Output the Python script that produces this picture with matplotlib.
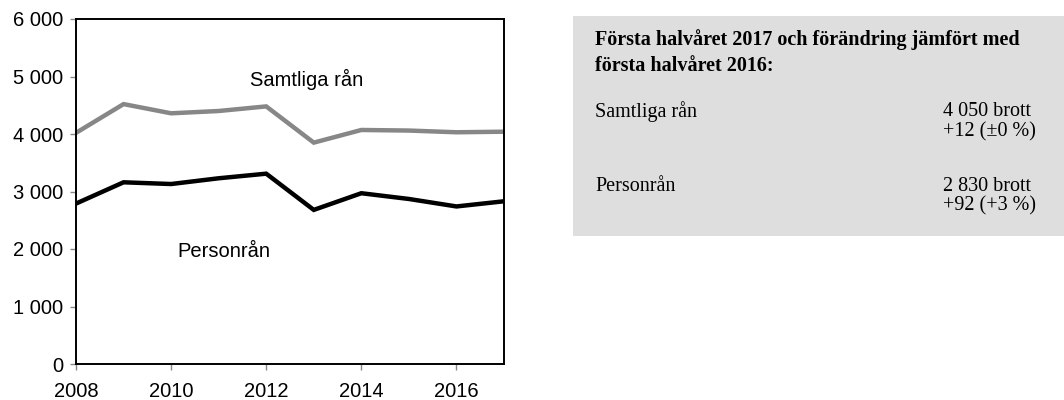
import matplotlib
matplotlib.use("Agg")
import matplotlib.pyplot as plt
from matplotlib.patches import Rectangle
from matplotlib.ticker import FuncFormatter

years = [2008, 2009, 2010, 2011, 2012, 2013, 2014, 2015, 2016, 2017]
samtliga = [4020, 4520, 4360, 4400, 4480, 3850, 4070, 4060, 4030, 4040]
personran = [2790, 3160, 3130, 3230, 3310, 2680, 2970, 2870, 2740, 2830]
yticks = [0, 1000, 2000, 3000, 4000, 5000, 6000]
xticks = [2008, 2010, 2012, 2014, 2016]

box_title = ["Första halvåret 2017 och förändring jämfört med",
             "första halvåret 2016:"]
box_rows = [("Samtliga rån", "4 050 brott", "+12 (±0 %)"),
            ("Personrån", "2 830 brott", "+92 (+3 %)")]

plt.rcParams['font.family'] = ['Liberation Sans', 'DejaVu Sans']

W, H = 1064, 400
fig = plt.figure(figsize=(W/100, H/100), dpi=100)
ax = fig.add_axes([76/W, 1-364/H, (504-76)/W, (364-19)/H])

ax.plot(years, samtliga, color='#878787', lw=3.2, solid_joinstyle='miter')
ax.plot(years, personran, color='black', lw=3.2, solid_joinstyle='miter')
ax.set_xlim(2008, 2017)
ax.set_ylim(0, 6000)
ax.set_yticks(yticks)
ax.set_xticks(xticks)
ax.yaxis.set_major_formatter(FuncFormatter(lambda v, p: f"{int(v):,}".replace(",", " ")))
ax.tick_params(labelsize=14.5, length=4, width=1, color='#888888', direction='out')
ax.tick_params(axis='y', pad=5)
ax.tick_params(axis='x', pad=9)
for s in ax.spines.values():
    s.set_linewidth(1.4)

ax.text(2012.85, 4940, "Samtliga rån", fontsize=14.5, ha='center', va='center')
ax.text(2011.1, 1950, "Personrån", fontsize=14.5, ha='center', va='center')

# info box
bx0, by0, bx1, by1 = 573, 16, 1064, 236
fig.patches.append(Rectangle((bx0/W, 1-by1/H), (bx1-bx0)/W, (by1-by0)/H,
                             transform=fig.transFigure, facecolor='#dedede',
                             edgecolor='none', zorder=0))
serif = ['Liberation Serif', 'DejaVu Serif']
for line, y in zip(box_title, [40, 66]):
    fig.text(595/W, 1-y/H, line, fontsize=14.5, fontweight='bold', family=serif,
             va='center', ha='left')
row_y = [112, 186]
for (name, v1, v2), y in zip(box_rows, row_y):
    fig.text(595/W, 1-y/H, name, fontsize=14.5, family=serif, va='center', ha='left')
    fig.text(943/W, 1-y/H, v1, fontsize=14.5, family=serif, va='center', ha='left')
    fig.text(943/W, 1-(y+20)/H, v2, fontsize=14.5, family=serif, va='center', ha='left')

fig.savefig("out.png", dpi=100)
